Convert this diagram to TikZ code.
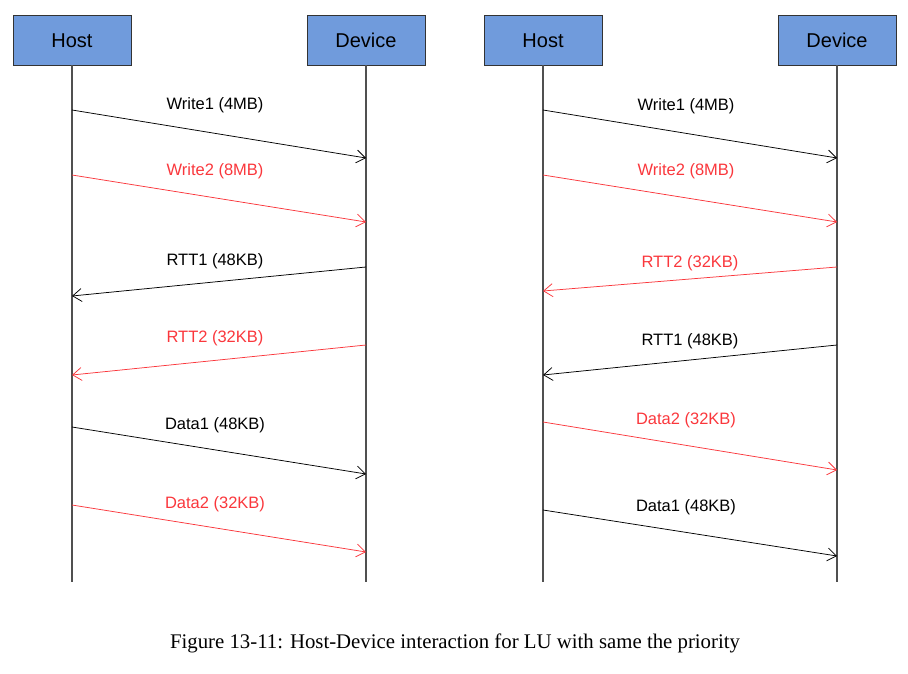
\documentclass[tikz,border=0pt]{standalone}
\usepackage{fontspec}
\setmainfont{Liberation Serif}
\newfontfamily\labelfont{Liberation Sans}
\usetikzlibrary{arrows.meta}

\definecolor{boxblue}{RGB}{112,155,220}
\definecolor{msgred}{RGB}{250,55,60}
\definecolor{lifegray}{RGB}{80,80,80}

\tikzset{
  party/.style={draw=black!80, fill=boxblue, minimum width=118pt, minimum height=50pt,
    inner sep=0pt, text height=16pt, text depth=0pt,
    font=\labelfont\fontsize{20}{24}\selectfont},
  lifeline/.style={lifegray, line width=1.1pt},
  msg/.style={line width=0.75pt, -{Straight Barb[length=9pt,width=13pt,line width=0.75pt]}},
  msglabel/.style={font=\labelfont\fontsize{16.5}{19}\selectfont, inner sep=0pt}
}

\begin{document}
\begin{tikzpicture}[x=1pt, y=-1pt]
\useasboundingbox (0,0) rectangle (908,674);

% left diagram
\node[party] (hostA) at (72,40) {Host};
\node[party] (devA) at (366,40) {Device};
\coordinate (hostAend) at (72,582);
\coordinate (devAend) at (366,582);
\draw[lifeline] (hostA) -- (hostAend);
\draw[lifeline] (devA) -- (devAend);

\coordinate (a1s) at (72,110);  \coordinate (a1e) at (366,158);
\coordinate (a2s) at (72,175);  \coordinate (a2e) at (366,222);
\coordinate (a3s) at (366,267); \coordinate (a3e) at (72,296);
\coordinate (a4s) at (366,345); \coordinate (a4e) at (72,375);
\coordinate (a5s) at (72,427);  \coordinate (a5e) at (366,474);
\coordinate (a6s) at (72,505);  \coordinate (a6e) at (366,552);

\draw[msg] (a1s) -- (a1e);
\draw[msg, msgred] (a2s) -- (a2e);
\draw[msg] (a3s) -- (a3e);
\draw[msg, msgred] (a4s) -- (a4e);
\draw[msg] (a5s) -- (a5e);
\draw[msg, msgred] (a6s) -- (a6e);

\node[msglabel] (la1) at (215,105) {Write1 (4MB)};
\node[msglabel, text=msgred] (la2) at (215,171) {Write2 (8MB)};
\node[msglabel] (la3) at (215,261) {RTT1 (48KB)};
\node[msglabel, text=msgred] (la4) at (215,338) {RTT2 (32KB)};
\node[msglabel] (la5) at (215,425) {Data1 (48KB)};
\node[msglabel, text=msgred] (la6) at (215,504) {Data2 (32KB)};

% right diagram
\node[party] (hostB) at (543,40) {Host};
\node[party] (devB) at (837,40) {Device};
\coordinate (hostBend) at (543,582);
\coordinate (devBend) at (837,582);
\draw[lifeline] (hostB) -- (hostBend);
\draw[lifeline] (devB) -- (devBend);

\coordinate (b1s) at (543,110); \coordinate (b1e) at (837,158);
\coordinate (b2s) at (543,175); \coordinate (b2e) at (837,222);
\coordinate (b3s) at (837,267); \coordinate (b3e) at (543,291);
\coordinate (b4s) at (837,345); \coordinate (b4e) at (543,375);
\coordinate (b5s) at (543,422); \coordinate (b5e) at (837,470);
\coordinate (b6s) at (543,510); \coordinate (b6e) at (837,556);

\draw[msg] (b1s) -- (b1e);
\draw[msg, msgred] (b2s) -- (b2e);
\draw[msg, msgred] (b3s) -- (b3e);
\draw[msg] (b4s) -- (b4e);
\draw[msg, msgred] (b5s) -- (b5e);
\draw[msg] (b6s) -- (b6e);

\node[msglabel] (lb1) at (686,106) {Write1 (4MB)};
\node[msglabel, text=msgred] (lb2) at (686,171) {Write2 (8MB)};
\node[msglabel, text=msgred] (lb3) at (690,263) {RTT2 (32KB)};
\node[msglabel] (lb4) at (690,341) {RTT1 (48KB)};
\node[msglabel, text=msgred] (lb5) at (686,420) {Data2 (32KB)};
\node[msglabel] (lb6) at (686,507) {Data1 (48KB)};

% caption
\node[font=\fontsize{20.8}{24}\selectfont, anchor=base] (caption) at (455,648)
  {Figure 13-11: Host-Device interaction for LU with same the priority};

\end{tikzpicture}
\end{document}
